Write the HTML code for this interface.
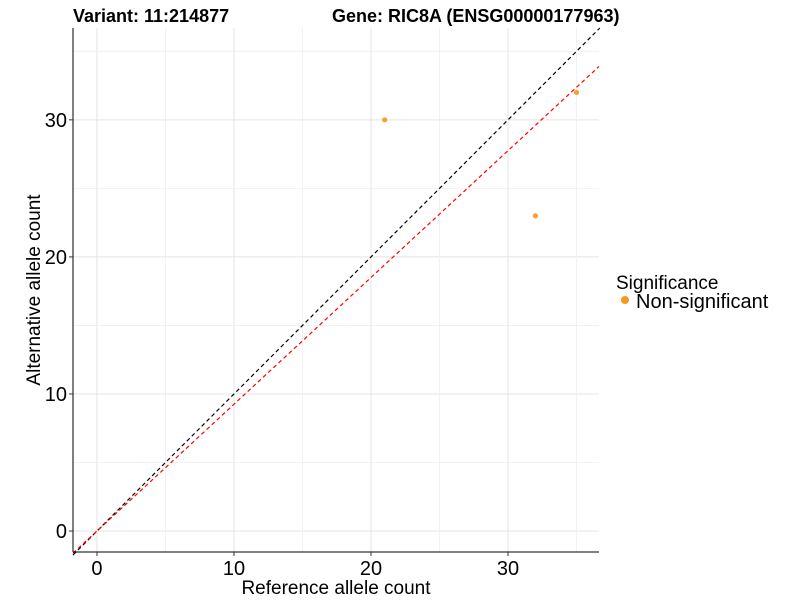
<!DOCTYPE html>
<html><head><meta charset="utf-8"><style>
body{margin:0;background:#fff;font-family:"Liberation Sans",sans-serif}
</style></head><body>
<svg id="chart" width="800" height="600" xmlns="http://www.w3.org/2000/svg" font-family="Liberation Sans, sans-serif">
<text x="73" y="22" font-size="18" font-weight="bold">Variant: 11:214877</text>
<text x="332" y="22" font-size="18" font-weight="bold">Gene: RIC8A (ENSG00000177963)</text>
<g id="grid"></g>
<g id="lines"></g>
<g id="points"></g>
<g id="axes"></g>
<text x="336" y="594" font-size="19" text-anchor="middle">Reference allele count</text>
<text transform="translate(40,290) rotate(-90)" font-size="19" text-anchor="middle">Alternative allele count</text>
<g>
<text x="616" y="289" font-size="19">Significance</text>
<circle cx="625" cy="300" r="4" fill="#F7971E"/>
<text x="636" y="308" font-size="20">Non-significant</text>
</g>
</svg>
<script>
const refCounts=[21,32,35];
const altCounts=[30,23,32];
const xTicks=[0,10,20,30];
const yTicks=[0,10,20,30];
const redSlope=0.925;
const NS='http://www.w3.org/2000/svg';
const L=73,R=599,T=28,B=552;
const xmin=-1.75,xmax=36.64,ymin=-1.53,ymax=36.7;
const sx=v=>L+(v-xmin)/(xmax-xmin)*(R-L);
const sy=v=>B-(v-ymin)/(ymax-ymin)*(B-T);
function mk(tag,attrs,parent){const e=document.createElementNS(NS,tag);for(const k in attrs)e.setAttribute(k,attrs[k]);document.getElementById(parent).appendChild(e);return e;}
for(let v=-5;v<=40;v+=5){
 const major=v%10===0;
 if(v>xmin&&v<xmax){const e=mk('line',{x1:sx(v),x2:sx(v),y1:T,y2:B,stroke:major?'#e4e4e4':'#efefef','stroke-width':major?1:0.8},'grid');
 
 }
 if(v>ymin&&v<ymax){const e=mk('line',{x1:L,x2:R,y1:sy(v),y2:sy(v),stroke:major?'#e4e4e4':'#efefef','stroke-width':major?1:0.8},'grid');
 
 }
}
let e=mk('line',{x1:sx(xmin),y1:sy(xmin),x2:sx(ymax),y2:sy(ymax),stroke:'#000','stroke-dasharray':'4,3','stroke-width':1.2},'lines');


e=mk('line',{x1:sx(xmin),y1:sy(xmin*redSlope),x2:sx(xmax),y2:sy(xmax*redSlope),stroke:'#ff0000','stroke-dasharray':'4,3','stroke-width':1.2},'lines');


refCounts.forEach((x,i)=>{const c=mk('circle',{cx:sx(x),cy:sy(altCounts[i]),r:2.6,fill:'#F7A030'},'points');
 
 });
e=mk('line',{x1:L,x2:L,y1:T,y2:B,stroke:'#000','stroke-width':1},'axes');


e=mk('line',{x1:L,x2:R,y1:B,y2:B,stroke:'#000','stroke-width':1},'axes');


xTicks.forEach(v=>{const t=mk('line',{x1:sx(v),x2:sx(v),y1:B,y2:B+4,stroke:'#333'},'axes');
 
 
 const l=mk('text',{x:sx(v),y:B+23,'font-size':20,'text-anchor':'middle'},'axes');l.textContent=v;
 
 });
yTicks.forEach(v=>{const t=mk('line',{x1:L-4,x2:L,y1:sy(v),y2:sy(v),stroke:'#333'},'axes');
 
 
 const l=mk('text',{x:L-6,y:sy(v)+7,'font-size':20,'text-anchor':'end'},'axes');l.textContent=v;
 
 });
</script>
</body></html>
